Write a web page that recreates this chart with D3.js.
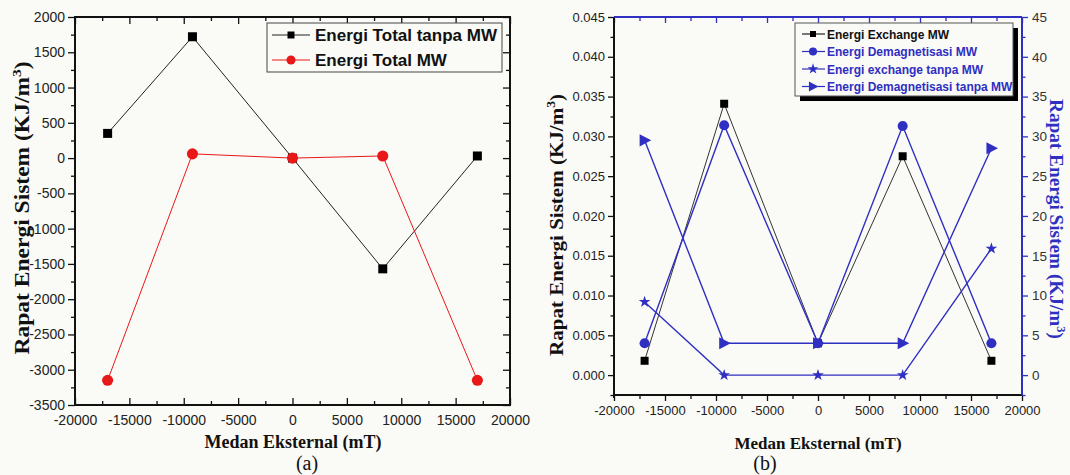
<!DOCTYPE html>
<html>
<head>
<meta charset="utf-8">
<script src="https://cdn.jsdelivr.net/npm/d3@7/dist/d3.min.js"></script>
<style>
  html, body { margin: 0; padding: 0; background: #fafaf6; }
  svg { display: block; }
</style>
</head>
<body>
<svg id="chart" width="1070" height="475"></svg>
<script>
// ---------- DATA ----------
const xTickValues = [-20000, -15000, -10000, -5000, 0, 5000, 10000, 15000, 20000];

// Panel (a)
const fieldA = [-17000, -9200, 0, 8300, 17000];
const totalTanpaMW = [350, 1720, 0, -1570, 30];
const totalMW = [-3150, 60, 0, 30, -3150];
const yTicksA = [-3500, -3000, -2500, -2000, -1500, -1000, -500, 0, 500, 1000, 1500, 2000];

// Panel (b)
const fieldB = [-17000, -9200, 0, 8300, 17000];
const exchangeMW = [0.0018, 0.0341, 0.0040, 0.0275, 0.0018];      // left axis
const demagMW = [4.0, 31.4, 4.0, 31.3, 4.0];                      // right axis
const exchangeTanpaMW = [9.2, 0, 0, 0, 15.9];                      // right axis
const demagTanpaMW = [29.5, 4.0, 4.0, 4.0, 28.5];                  // right axis
const yTicksBLeft = [0.000, 0.005, 0.010, 0.015, 0.020, 0.025, 0.030, 0.035, 0.040, 0.045];
const yTicksBRight = [0, 5, 10, 15, 20, 25, 30, 35, 40, 45];

const legendA = ["Energi Total tanpa MW", "Energi Total MW"];
const legendB = ["Energi Exchange MW", "Energi Demagnetisasi MW", "Energi exchange tanpa MW", "Energi Demagnetisasi tanpa MW"];

// ---------- STYLE ----------
const tickFont = "'Liberation Sans', Arial, sans-serif";
const titleFont = "'Liberation Serif', 'Times New Roman', serif";
const BLUE = "#2f2fc2";
const RED = "#e81818";

const fmtInt = d => String(d);                 // plain hyphen minus
const fmt3 = d => d.toFixed(3);

const svg = d3.select("#chart");
svg.append("rect").attr("width", 1070).attr("height", 475).attr("fill", "#fafaf6");

function markerPath(type, size) {
  if (type === "triangle") {
    const s = size;
    return `M${-s * 0.45},${-s * 0.55}L${s * 0.6},0L${-s * 0.45},${s * 0.55}Z`;
  }
  const symMap = { square: d3.symbolSquare, circle: d3.symbolCircle, star: d3.symbolStar };
  const factor = type === "circle" ? 0.8 : (type === "star" ? 0.3 : 1);
  return d3.symbol().type(symMap[type]).size(size * size * factor)();
}

function styleAxis(g, color, labelColor, fontSize) {
  g.select(".domain").remove();
  g.selectAll(".tick line").attr("stroke", color).attr("stroke-width", 1.3);
  g.selectAll(".tick text").attr("fill", labelColor).style("font-family", tickFont).style("font-size", fontSize + "px");
}

function minorTicks(ticks) {
  const out = [];
  for (let i = 0; i < ticks.length - 1; i++) out.push((ticks[i] + ticks[i + 1]) / 2);
  return out;
}

function yTitle(g, cx, cy, rot, size, len, color) {
  g.append("text").attr("transform", `translate(${cx},${cy}) rotate(${rot})`).attr("text-anchor", "middle")
    .attr("textLength", len).attr("lengthAdjust", "spacingAndGlyphs")
    .style("font-family", titleFont).style("font-weight", "bold").style("font-size", size + "px").attr("fill", color)
    .call(t => {
      t.append("tspan").text("Rapat Energi Sistem (KJ/m");
      t.append("tspan").text("3").attr("dy", -size * 0.4).style("font-size", (size * 0.65) + "px");
      t.append("tspan").text(")").attr("dy", size * 0.4);
    });
}

// ================= PANEL (a) =================
{
  const x = d3.scaleLinear().domain([-20000, 20000]).range([75, 510]);
  const y = d3.scaleLinear().domain([-3500, 2000]).range([405, 17]);
  const g = svg.append("g");

  const xMinor = minorTicks(xTickValues);
  const yMinor = minorTicks(yTicksA);

  g.append("g").attr("transform", "translate(0,405)")
    .call(d3.axisBottom(x).tickValues(xTickValues).tickSize(-7).tickPadding(10).tickFormat(fmtInt))
    .call(a => styleAxis(a, "#111", "#222", 14));
  g.append("g").attr("transform", "translate(0,405)")
    .call(d3.axisBottom(x).tickValues(xMinor).tickSize(-4).tickFormat(""))
    .call(a => styleAxis(a, "#111", "#222", 14));
  g.append("g").attr("transform", "translate(0,17)")
    .call(d3.axisTop(x).tickValues(xTickValues).tickSize(-7).tickFormat(""))
    .call(a => styleAxis(a, "#111", "#222", 14));
  g.append("g").attr("transform", "translate(0,17)")
    .call(d3.axisTop(x).tickValues(xMinor).tickSize(-4).tickFormat(""))
    .call(a => styleAxis(a, "#111", "#222", 14));
  g.append("g").attr("transform", "translate(75,0)")
    .call(d3.axisLeft(y).tickValues(yTicksA).tickSize(7).tickPadding(3).tickFormat(fmtInt))
    .call(a => styleAxis(a, "#111", "#222", 14));
  g.append("g").attr("transform", "translate(75,0)")
    .call(d3.axisLeft(y).tickValues(yMinor).tickSize(4).tickFormat(""))
    .call(a => styleAxis(a, "#111", "#222", 14));
  g.append("g").attr("transform", "translate(510,0)")
    .call(d3.axisRight(y).tickValues(yTicksA).tickSize(-7).tickFormat(""))
    .call(a => styleAxis(a, "#111", "#222", 14));
  g.append("g").attr("transform", "translate(510,0)")
    .call(d3.axisRight(y).tickValues(yMinor).tickSize(-4).tickFormat(""))
    .call(a => styleAxis(a, "#111", "#222", 14));

  g.append("rect").attr("x", 75).attr("y", 17).attr("width", 435).attr("height", 388)
    .attr("fill", "none").attr("stroke", "#111").attr("stroke-width", 2);

  const line = d3.line().x((d, i) => x(fieldA[i])).y(d => y(d));
  g.append("path").datum(totalTanpaMW).attr("d", line).attr("fill", "none").attr("stroke", "#222").attr("stroke-width", 1);
  g.append("path").datum(totalMW).attr("d", line).attr("fill", "none").attr("stroke", RED).attr("stroke-width", 1);

  g.selectAll(".mA1").data(totalTanpaMW).enter().append("path")
    .attr("transform", (d, i) => `translate(${x(fieldA[i])},${y(d)})`)
    .attr("d", markerPath("square", 9)).attr("fill", "#000");
  g.selectAll(".mA2").data(totalMW).enter().append("path")
    .attr("transform", (d, i) => `translate(${x(fieldA[i])},${y(d)})`)
    .attr("d", markerPath("circle", 11)).attr("fill", RED);

  const lg = g.append("g");
  lg.append("rect").attr("x", 267).attr("y", 23).attr("width", 235).attr("height", 49)
    .attr("fill", "#fafaf6").attr("stroke", "#444").attr("stroke-width", 1);
  const colsA = ["#222", RED];
  const typesA = ["square", "circle"];
  legendA.forEach((t, i) => {
    const yy = 35 + i * 25;
    lg.append("line").attr("x1", 272).attr("x2", 310).attr("y1", yy).attr("y2", yy).attr("stroke", colsA[i]).attr("stroke-width", 1);
    lg.append("path").attr("transform", `translate(291,${yy})`).attr("d", markerPath(typesA[i], i === 0 ? 7 : 9)).attr("fill", i === 0 ? "#000" : RED);
    lg.append("text").attr("x", 315).attr("y", yy + 6).text(t)
      .style("font-family", tickFont).style("font-weight", "bold").style("font-size", "17px").attr("fill", "#111");
  });

  yTitle(g, 29, 208, -90, 20, 293, "#111");
  g.append("text").attr("x", 293).attr("y", 448).attr("text-anchor", "middle")
    .style("font-family", titleFont).style("font-weight", "bold").style("font-size", "18px").attr("fill", "#111")
    .text("Medan Eksternal (mT)");
  g.append("text").attr("x", 307).attr("y", 470).attr("text-anchor", "middle")
    .style("font-family", titleFont).style("font-size", "20px").attr("fill", "#111").text("(a)");
}

// ================= PANEL (b) =================
{
  const x = d3.scaleLinear().domain([-20000, 20000]).range([614, 1022]);
  const yL = d3.scaleLinear().domain([-0.0025, 0.045]).range([395, 17]);
  const yR = d3.scaleLinear().domain([-2.5, 45]).range([395, 17]);
  const g = svg.append("g");

  const xMinor = minorTicks(xTickValues);
  const yLMinor = minorTicks(yTicksBLeft).concat([-0.0025]);
  const yRMinor = minorTicks(yTicksBRight).concat([-2.5]);

  g.append("g").attr("transform", "translate(0,395)")
    .call(d3.axisBottom(x).tickValues(xTickValues).tickSize(6).tickPadding(5).tickFormat(fmtInt))
    .call(a => styleAxis(a, "#111", "#222", 13));
  g.append("g").attr("transform", "translate(0,395)")
    .call(d3.axisBottom(x).tickValues(xMinor).tickSize(4).tickFormat(""))
    .call(a => styleAxis(a, "#111", "#222", 13));
  g.append("g").attr("transform", "translate(0,17)")
    .call(d3.axisTop(x).tickValues(xTickValues).tickSize(-6).tickFormat(""))
    .call(a => styleAxis(a, BLUE, BLUE, 13));
  g.append("g").attr("transform", "translate(0,17)")
    .call(d3.axisTop(x).tickValues(xMinor).tickSize(-4).tickFormat(""))
    .call(a => styleAxis(a, BLUE, BLUE, 13));
  g.append("g").attr("transform", "translate(614,0)")
    .call(d3.axisLeft(yL).tickValues(yTicksBLeft).tickSize(6).tickPadding(3).tickFormat(fmt3))
    .call(a => styleAxis(a, "#111", "#222", 13));
  g.append("g").attr("transform", "translate(614,0)")
    .call(d3.axisLeft(yL).tickValues(yLMinor).tickSize(3.5).tickFormat(""))
    .call(a => styleAxis(a, "#111", "#222", 13));
  g.append("g").attr("transform", "translate(1022,0)")
    .call(d3.axisRight(yR).tickValues(yTicksBRight).tickSize(6).tickPadding(4).tickFormat(fmtInt))
    .call(a => styleAxis(a, BLUE, "#333", 13.5));
  g.append("g").attr("transform", "translate(1022,0)")
    .call(d3.axisRight(yR).tickValues(yRMinor).tickSize(3.5).tickFormat(""))
    .call(a => styleAxis(a, BLUE, "#333", 13.5));

  g.append("line").attr("x1", 614).attr("x2", 1022).attr("y1", 395).attr("y2", 395).attr("stroke", "#111").attr("stroke-width", 2);
  g.append("line").attr("x1", 614).attr("x2", 614).attr("y1", 17).attr("y2", 398).attr("stroke", "#111").attr("stroke-width", 2);
  g.append("line").attr("x1", 614).attr("x2", 1022).attr("y1", 17).attr("y2", 17).attr("stroke", BLUE).attr("stroke-width", 2);
  g.append("line").attr("x1", 1022).attr("x2", 1022).attr("y1", 17).attr("y2", 395).attr("stroke", BLUE).attr("stroke-width", 2);

  const lineL = d3.line().x((d, i) => x(fieldB[i])).y(d => yL(d));
  const lineR = d3.line().x((d, i) => x(fieldB[i])).y(d => yR(d));

  g.append("path").datum(exchangeMW).attr("d", lineL).attr("fill", "none").attr("stroke", "#333").attr("stroke-width", 1);
  [demagMW, exchangeTanpaMW, demagTanpaMW].forEach(s => {
    g.append("path").datum(s).attr("d", lineR).attr("fill", "none").attr("stroke", BLUE).attr("stroke-width", 1.4);
  });

  g.selectAll(".mB1").data(exchangeMW).enter().append("path")
    .attr("transform", (d, i) => `translate(${x(fieldB[i])},${yL(d)})`)
    .attr("d", markerPath("square", 8)).attr("fill", "#000");
  const rSeries = [[demagMW, "circle", 10], [exchangeTanpaMW, "star", 12], [demagTanpaMW, "triangle", 11]];
  rSeries.forEach(([s, type, sz]) => {
    g.append("g").selectAll("path").data(s).enter().append("path")
      .attr("transform", (d, i) => `translate(${x(fieldB[i])},${yR(d)})`)
      .attr("d", markerPath(type, sz)).attr("fill", BLUE);
  });

  const lg = g.append("g");
  lg.append("rect").attr("x", 800).attr("y", 28).attr("width", 218).attr("height", 73).attr("fill", "#000");
  lg.append("rect").attr("x", 795).attr("y", 23).attr("width", 218).attr("height", 73)
    .attr("fill", "#fafaf6").attr("stroke", "#555").attr("stroke-width", 1);
  const typesB = ["square", "circle", "star", "triangle"];
  const sizesB = [6, 8, 11, 9];
  legendB.forEach((t, i) => {
    const yy = 34 + i * 17.5;
    const col = i === 0 ? "#222" : BLUE;
    lg.append("line").attr("x1", 802).attr("x2", 825).attr("y1", yy).attr("y2", yy).attr("stroke", col).attr("stroke-width", 1.2);
    lg.append("path").attr("transform", `translate(813,${yy})`).attr("d", markerPath(typesB[i], sizesB[i])).attr("fill", i === 0 ? "#000" : BLUE);
    lg.append("text").attr("x", 827).attr("y", yy + 4.5).text(t)
      .style("font-family", tickFont).style("font-weight", "bold").style("font-size", "12px")
      .attr("fill", i === 0 ? "#111" : BLUE);
  });

  yTitle(g, 563, 225, -90, 19, 262, "#111");
  yTitle(g, 1050, 219, 90, 18, 240, BLUE);
  g.append("text").attr("x", 818).attr("y", 449).attr("text-anchor", "middle")
    .style("font-family", titleFont).style("font-weight", "bold").style("font-size", "17px").attr("fill", "#111")
    .text("Medan Eksternal (mT)");
  g.append("text").attr("x", 765).attr("y", 470).attr("text-anchor", "middle")
    .style("font-family", titleFont).style("font-size", "20px").attr("fill", "#111").text("(b)");
}
</script>
</body>
</html>
